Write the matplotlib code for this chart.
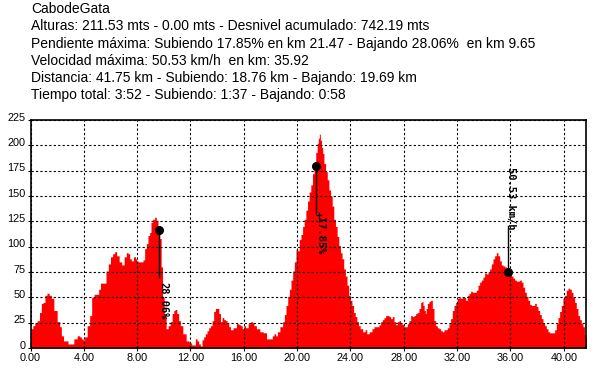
import matplotlib
matplotlib.use("Agg")
import matplotlib.pyplot as plt
import matplotlib.transforms as mtransforms
import numpy as np

title = "CabodeGata"
info_lines = [
    "Alturas: 211.53 mts - 0.00 mts - Desnivel acumulado: 742.19 mts",
    "Pendiente máxima: Subiendo 17.85% en km 21.47 - Bajando 28.06%  en km 9.65",
    "Velocidad máxima: 50.53 km/h  en km: 35.92",
    "Distancia: 41.75 km - Subiendo: 18.76 km - Bajando: 19.69 km",
    "Tiempo total: 3:52 - Subiendo: 1:37 - Bajando: 0:58",
]

km = [0.0, 0.1, 0.25, 0.4, 0.6, 0.75, 0.875, 1.0, 1.175, 1.3, 1.5, 1.625, 1.875, 2.125, 2.25, 2.375,
      2.575, 2.75, 2.875, 3.125, 3.375, 3.625, 3.75, 3.875, 4.0, 4.125, 4.375, 4.5, 4.675, 4.875,
      5.05, 5.175, 5.325, 5.575, 5.75, 5.925, 6.075, 6.25, 6.375, 6.55, 6.75, 6.925, 7.125, 7.25,
      7.375, 7.5, 7.625, 7.825, 7.925, 8.0, 8.125, 8.375, 8.5, 8.625, 8.75, 8.875, 9.0, 9.075, 9.25,
      9.375, 9.5, 9.625, 9.75, 9.85, 9.95, 10.1, 10.25, 10.4, 10.55, 10.7, 10.8, 10.9, 11.05, 11.18,
      11.3, 11.55, 11.8, 12.0, 12.18, 12.3, 12.43, 12.55, 12.68, 12.8, 12.93, 13.05, 13.18, 13.3,
      13.43, 13.56, 13.68, 13.8, 13.93, 14.06, 14.19, 14.31, 14.44, 14.56, 14.68, 14.81, 14.93,
      15.07, 15.32, 15.57, 15.69, 15.82, 15.94, 16.07, 16.2, 16.45, 16.57, 16.7, 16.82, 17.07, 17.33,
      17.58, 17.83, 18.08, 18.2, 18.33, 18.46, 18.58, 18.83, 18.99, 19.1, 19.23, 19.36, 19.48, 19.6,
      19.73, 19.85, 19.98, 20.1, 20.22, 20.35, 20.47, 20.59, 20.72, 20.84, 20.96, 21.09, 21.21,
      21.33, 21.46, 21.55, 21.63, 21.7, 21.78, 21.88, 21.95, 22.07, 22.2, 22.32, 22.44, 22.57,
      22.69, 22.81, 22.94, 23.06, 23.19, 23.31, 23.43, 23.56, 23.68, 23.8, 23.93, 24.05, 24.17,
      24.3, 24.42, 24.54, 24.67, 24.79, 25.04, 25.16, 25.28, 25.53, 25.7, 25.83, 26.08, 26.2, 26.33,
      26.45, 26.58, 26.7, 26.83, 26.95, 27.08, 27.2, 27.33, 27.45, 27.58, 27.7, 27.83, 27.95, 28.08,
      28.2, 28.33, 28.45, 28.58, 28.7, 28.83, 28.95, 29.08, 29.2, 29.33, 29.4, 29.48, 29.58, 29.65,
      29.7, 29.83, 29.95, 30.08, 30.2, 30.33, 30.45, 30.58, 30.7, 30.83, 30.95, 31.08, 31.2, 31.33,
      31.45, 31.58, 31.7, 31.83, 31.95, 32.08, 32.2, 32.33, 32.45, 32.58, 32.7, 32.83, 32.95, 33.08,
      33.2, 33.38, 33.5, 33.63, 33.75, 33.88, 34.0, 34.13, 34.25, 34.38, 34.5, 34.63, 34.75, 34.88,
      35.0, 35.13, 35.25, 35.38, 35.5, 35.63, 35.75, 35.88, 36.0, 36.13, 36.25, 36.38, 36.5, 36.63,
      36.75, 36.88, 37.0, 37.13, 37.25, 37.38, 37.5, 37.63, 37.75, 37.88, 38.0, 38.13, 38.25, 38.38,
      38.5, 38.63, 38.75, 38.88, 39.0, 39.25, 39.38, 39.5, 39.63, 39.75, 39.88, 40.0, 40.13, 40.25,
      40.38, 40.5, 40.63, 40.75, 40.88, 41.0, 41.13, 41.25, 41.38, 41.5, 41.6, 41.7]
elev = [12, 19, 22, 25, 27, 35, 44, 45, 52, 54, 52, 49, 37, 26, 21, 12,
        7, 7, 4, 4, 9, 12, 11, 9, 8, 11, 22, 32, 50, 53,
        53, 58, 64, 64, 76, 83, 90, 93, 95, 91, 85, 82, 90, 94,
        93, 88, 86, 90, 88, 86, 85, 85, 87, 98, 103, 111, 114, 124, 127,
        129, 126, 117, 108, 80, 50, 34, 19, 22, 26, 34, 37, 38, 34, 27,
        22, 14, 7, 5, 3, 3, 9, 7, 4, 2, 8, 11, 14, 17,
        20, 22, 27, 36, 39, 39, 34, 26, 30, 28, 27, 24, 21,
        18, 20, 24, 23, 22, 19, 22, 20, 24, 26, 25, 22, 19, 16,
        15, 9, 9, 12, 14, 12, 16, 21, 26, 33, 42, 51, 58, 67,
        76, 85, 97, 96, 107, 112, 120, 127, 136, 145, 154, 161, 172,
        180, 193, 202, 207, 211, 205, 198, 192, 182, 174, 166, 156, 150,
        140, 127, 120, 110, 101, 94, 88, 78, 71, 62, 52, 47, 42,
        35, 31, 26, 22, 19, 16, 18, 14, 16, 19, 21, 21, 23, 26,
        28, 30, 32, 32, 31, 29, 31, 26, 23, 26, 27, 24, 23, 21,
        21, 24, 27, 32, 31, 32, 34, 35, 39, 45, 46, 42, 37, 34,
        39, 44, 46, 47, 39, 27, 22, 20, 19, 17, 16, 18, 18, 20,
        24, 29, 37, 42, 45, 49, 50, 49, 50, 50, 47, 52, 54, 56,
        55, 55, 57, 62, 65, 67, 70, 74, 73, 75, 78, 83, 88, 91,
        94, 91, 86, 82, 81, 80, 78, 75, 72, 71, 69, 67, 66, 66,
        67, 65, 60, 55, 51, 47, 43, 42, 42, 44, 41, 37, 33, 29,
        25, 22, 19, 16, 15, 15, 18, 24, 30, 36, 42, 49, 52, 57,
        59, 58, 55, 50, 45, 39, 32, 28, 24, 21, 13, 10]

# annotations: marker position, line end, label, label position
ann_km = [9.65, 21.4, 35.85]
ann_elev = [116, 180, 75]
ann_line_end = [70, 133, 120]
ann_text = ["28.06%", "17.85%", "50.53 km/h"]
ann_text_km = [9.95, 21.68, 36.02]
ann_text_elev = [47, 111, 148]

x_ticks = [0, 4, 8, 12, 16, 20, 24, 28, 32, 36, 40]
y_ticks = [0, 25, 50, 75, 100, 125, 150, 175, 200, 225]

W, H = 600, 368
fig = plt.figure(figsize=(W / 100, H / 100), dpi=100)
fig.patch.set_facecolor("white")
ax = fig.add_axes([30.5 / W, (H - 348) / H, (585.5 - 30.5) / W, (348 - 120) / H])

ax.fill_between(km, elev, 0, color="#FF0000", linewidth=0, step="mid", zorder=1)
ax.set_xlim(0, 41.63)
ax.set_ylim(0, 225)

ax.set_xticks(x_ticks)
ax.set_xticklabels([f"{v:.2f}" for v in x_ticks])
ax.set_yticks(y_ticks)
ax.set_yticklabels([str(v) for v in y_ticks])
for lab in ax.get_xticklabels() + ax.get_yticklabels():
    lab.set_fontfamily("Liberation Sans")
    lab.set_fontsize(7.8)
ax.tick_params(axis="both", length=2, width=0.8, color="black", pad=1.5)
# shift y labels slightly upward
off = mtransforms.ScaledTranslation(0, 2.5 / 72, fig.dpi_scale_trans)
for lab in ax.get_yticklabels():
    lab.set_transform(lab.get_transform() + off)

ax.grid(True, color="black", linestyle=(0, (2, 2)), linewidth=0.8, zorder=2)
ax.set_axisbelow(False)
for s in ax.spines.values():
    s.set_color("black")
    s.set_linewidth(1.2)
    s.set_zorder(5)

for i in range(len(ann_km)):
    ax.plot([ann_km[i], ann_km[i]], [ann_elev[i], ann_line_end[i]], color="black", lw=1.0, zorder=6)
    ax.plot(ann_km[i], ann_elev[i], "o", color="black", ms=5.5, zorder=7)
    ax.text(ann_text_km[i], ann_text_elev[i], ann_text[i], rotation=270, ha="center", va="center",
            fontsize=7.5, fontweight="bold", family="DejaVu Sans Mono", color="black", zorder=7)
ax.plot(21.66, 131, marker="+", color="black", ms=5, mew=0.9, zorder=7)

fig.text(31 / W, 1 - 9.3 / H, title, fontsize=10, family="Liberation Sans", va="center", ha="left")
for j, line in enumerate(info_lines):
    fig.text(31 / W, 1 - (26.5 + 17.2 * j) / H, line, fontsize=10, family="Liberation Sans",
             va="center", ha="left")

fig.savefig("out.png", dpi=100, facecolor="white")
